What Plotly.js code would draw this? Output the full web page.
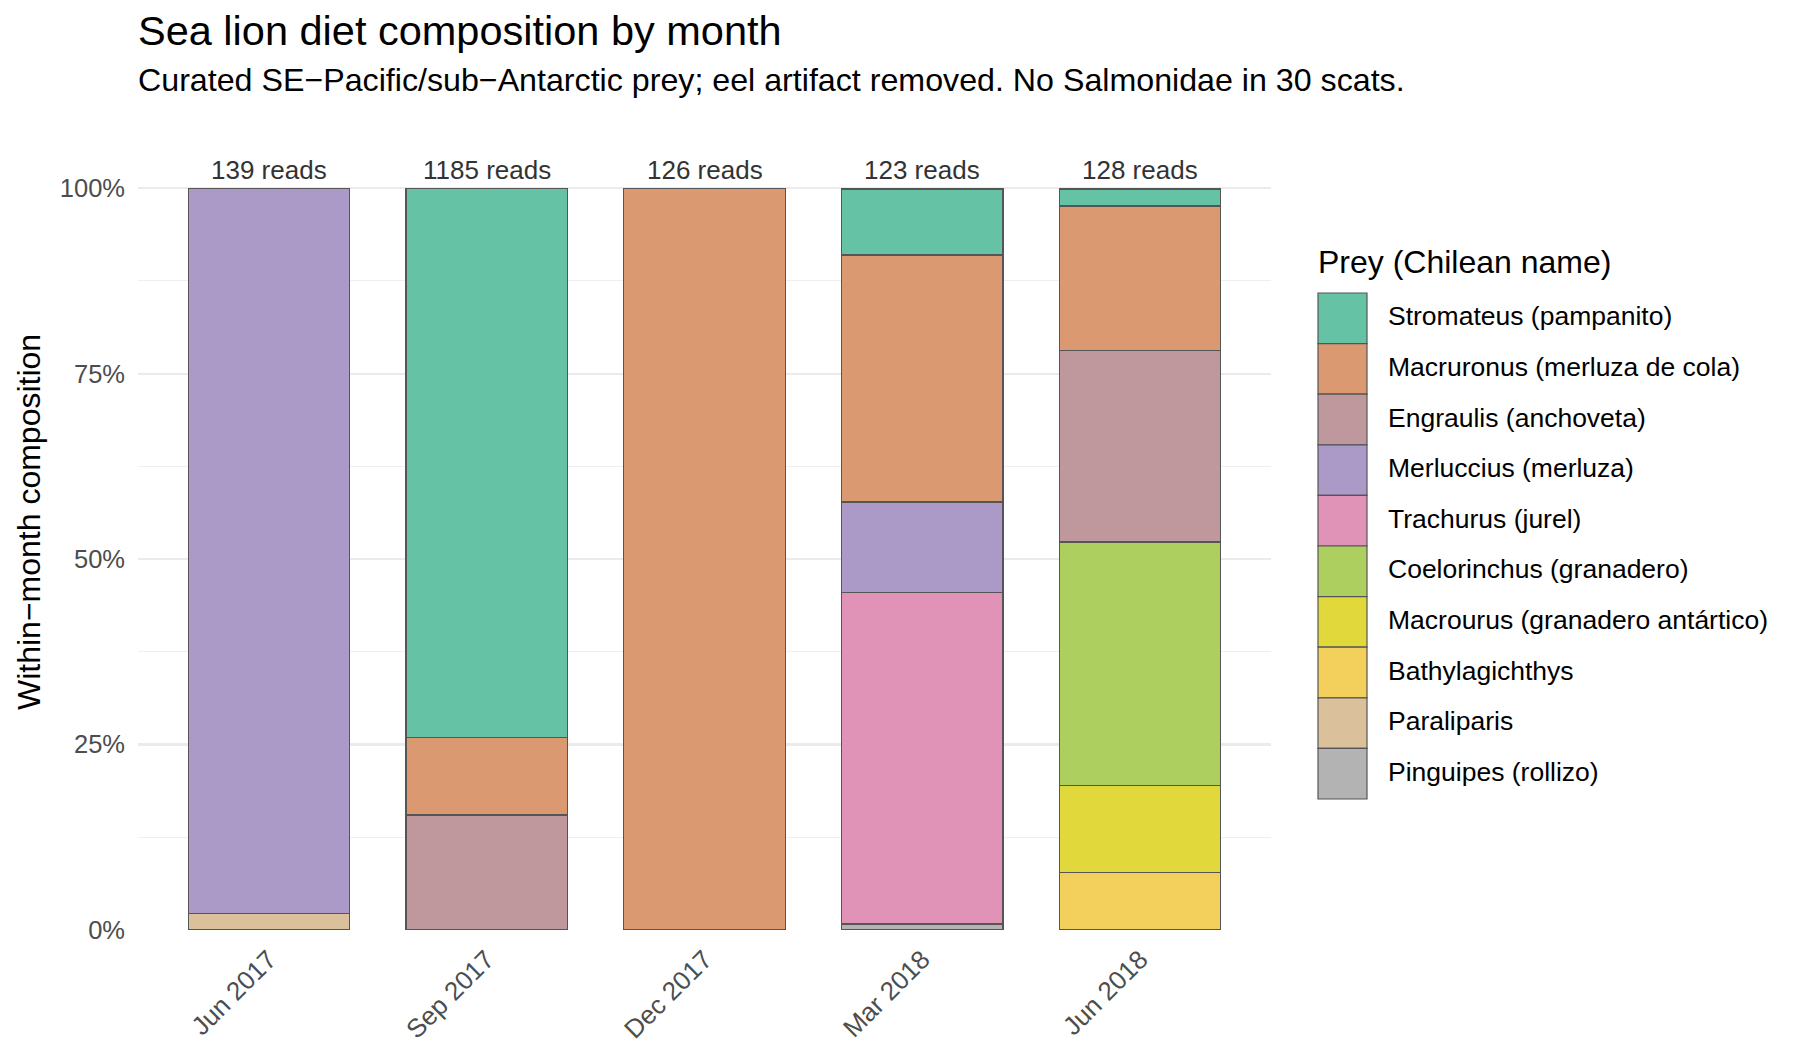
<!DOCTYPE html>
<html>
<head>
<meta charset="utf-8">
<script src="https://cdn.plot.ly/plotly-3.0.1.min.js"></script>
<style>
  html, body { margin: 0; padding: 0; background: #fff; }
  #chart { width: 1800px; height: 1059px; }
</style>
</head>
<body>
<div id="chart"></div>
<script>
'use strict';

// months and read totals
const months = ['Jun 2017', 'Sep 2017', 'Dec 2017', 'Mar 2018', 'Jun 2018'];
const reads = [139, 1185, 126, 123, 128];

// prey, in legend order (top of stack first)
const prey = [
    'Stromateus (pampanito)',
    'Macruronus (merluza de cola)',
    'Engraulis (anchoveta)',
    'Merluccius (merluza)',
    'Trachurus (jurel)',
    'Coelorinchus (granadero)',
    'Macrourus (granadero antártico)',
    'Bathylagichthys',
    'Paraliparis',
    'Pinguipes (rollizo)'
];
const preyColors = [
    '#66C2A5', '#DB9971', '#BE989C', '#AB99C8', '#E093B7',
    '#ADCF60', '#E1D93B', '#F3D05C', '#DAC09B', '#B3B3B3'
];

// within-month share (%), one array per prey, same order as months
const stromateus      = [0,    74.0, 0,   8.9,  2.3];
const macruronus      = [0,    10.5, 100, 33.3, 19.5];
const engraulis       = [0,    15.5, 0,   0,    25.8];
const merluccius      = [97.8, 0,    0,   12.2, 0];
const trachurus       = [0,    0,    0,   44.7, 0];
const coelorinchus    = [0,    0,    0,   0,    32.8];
const macrourus       = [0,    0,    0,   0,    11.7];
const bathylagichthys = [0,    0,    0,   0,    7.8];
const paraliparis     = [2.2,  0,    0,   0,    0];
const pinguipes       = [0,    0,    0,   0.8,  0];

const shares = [stromateus, macruronus, engraulis, merluccius, trachurus,
    coelorinchus, macrourus, bathylagichthys, paraliparis, pinguipes];

const yTicks = [0, 25, 50, 75, 100];
const yTickText = ['0%', '25%', '50%', '75%', '100%'];
const yMinor = [12.5, 37.5, 62.5, 87.5];

const FONT = 'Liberation Sans, Arial, Helvetica, sans-serif';

// page geometry (px)
const W = 1800, H = 1059;
const M = {l: 138, r: 529, t: 114, b: 129};
const plotW = W - M.l - M.r;
const plotH = H - M.t - M.b;
const px = x => (x - M.l) / plotW;
const py = y => (H - M.b - y) / plotH;

// stack bottom-up, so the last prey goes in first
const data = [];
for (let i = prey.length - 1; i >= 0; i--) {
    data.push({
        type: 'bar',
        name: prey[i],
        x: months,
        y: shares[i],
        width: 0.74,
        marker: {
            color: preyColors[i],
            line: {color: '#555555', width: 1.2}
        },
        showlegend: false,
        hoverinfo: 'name+y'
    });
}

const annotations = [];
const shapes = [];

// read counts above bars
months.forEach((m, i) => {
    annotations.push({
        x: m, y: 100, xref: 'x', yref: 'y',
        text: reads[i] + ' reads',
        showarrow: false,
        yanchor: 'bottom',
        yshift: 1,
        font: {family: FONT, size: 26, color: '#333333'}
    });
});

// title and subtitle
annotations.push({
    xref: 'paper', yref: 'paper', x: 0, y: py(31),
    xanchor: 'left', yanchor: 'middle', showarrow: false,
    xshift: -2,
    text: 'Sea lion diet composition by month',
    font: {family: FONT, size: 41.5, color: '#000000'}
});
annotations.push({
    xref: 'paper', yref: 'paper', x: 0, y: py(80),
    xanchor: 'left', yanchor: 'middle', showarrow: false,
    xshift: -2,
    text: 'Curated SE\u2212Pacific/sub\u2212Antarctic prey; eel artifact removed. No Salmonidae in 30 scats.',
    font: {family: FONT, size: 32.2, color: '#000000'}
});

// y axis title
annotations.push({
    xref: 'paper', yref: 'paper', x: px(29), y: 0.5,
    xanchor: 'center', yanchor: 'middle', showarrow: false,
    textangle: -90,
    text: 'Within\u2212month composition',
    font: {family: FONT, size: 32, color: '#000000'}
});

// legend drawn by hand to get ggplot-sized keys
const LEG = {x: 1318, keyW: 49, top: 293, keyH: 50.6, textX: 1386, titleY: 262};
annotations.push({
    xref: 'paper', yref: 'paper', x: px(LEG.x), y: py(LEG.titleY),
    xanchor: 'left', yanchor: 'middle', showarrow: false,
    xshift: -2,
    text: 'Prey (Chilean name)',
    font: {family: FONT, size: 32, color: '#000000'}
});
prey.forEach((name, i) => {
    const y0 = LEG.top + i * LEG.keyH;
    shapes.push({
        type: 'rect', xref: 'paper', yref: 'paper',
        x0: px(LEG.x), x1: px(LEG.x + LEG.keyW),
        y0: py(y0), y1: py(y0 + LEG.keyH),
        fillcolor: preyColors[i],
        line: {color: '#555555', width: 1.2}
    });
    annotations.push({
        xref: 'paper', yref: 'paper',
        x: px(LEG.textX), y: py(y0 + LEG.keyH / 2),
        xanchor: 'left', yanchor: 'middle', showarrow: false,
        yshift: 2,
        text: name,
        font: {family: FONT, size: 26.5, color: '#000000'}
    });
});

const layout = {
    width: W,
    height: H,
    margin: M,
    paper_bgcolor: '#ffffff',
    plot_bgcolor: '#ffffff',
    barmode: 'stack',
    bargap: 0,
    showlegend: false,
    font: {family: FONT, color: '#4D4D4D'},
    xaxis: {
        type: 'category',
        range: [-0.6, 4.6],
        showgrid: false,
        zeroline: false,
        showline: false,
        ticks: '',
        tickangle: -45,
        ticklabelstandoff: 8,
        tickfont: {family: FONT, size: 26, color: '#4D4D4D'},
        fixedrange: true
    },
    yaxis: {
        range: [0, 110],
        tickvals: yTicks,
        ticktext: yTickText,
        showgrid: true,
        gridcolor: '#EBEBEB',
        gridwidth: 2.2,
        zeroline: false,
        showline: false,
        ticks: '',
        ticklabelstandoff: 12,
        tickfont: {family: FONT, size: 25.5, color: '#4D4D4D'},
        minor: {
            tickvals: yMinor,
            showgrid: true,
            gridcolor: '#EFEFEF',
            gridwidth: 1.1
        },
        fixedrange: true
    },
    annotations: annotations,
    shapes: shapes
};

Plotly.newPlot('chart', data, layout, {displayModeBar: false, staticPlot: true});
</script>
</body>
</html>
